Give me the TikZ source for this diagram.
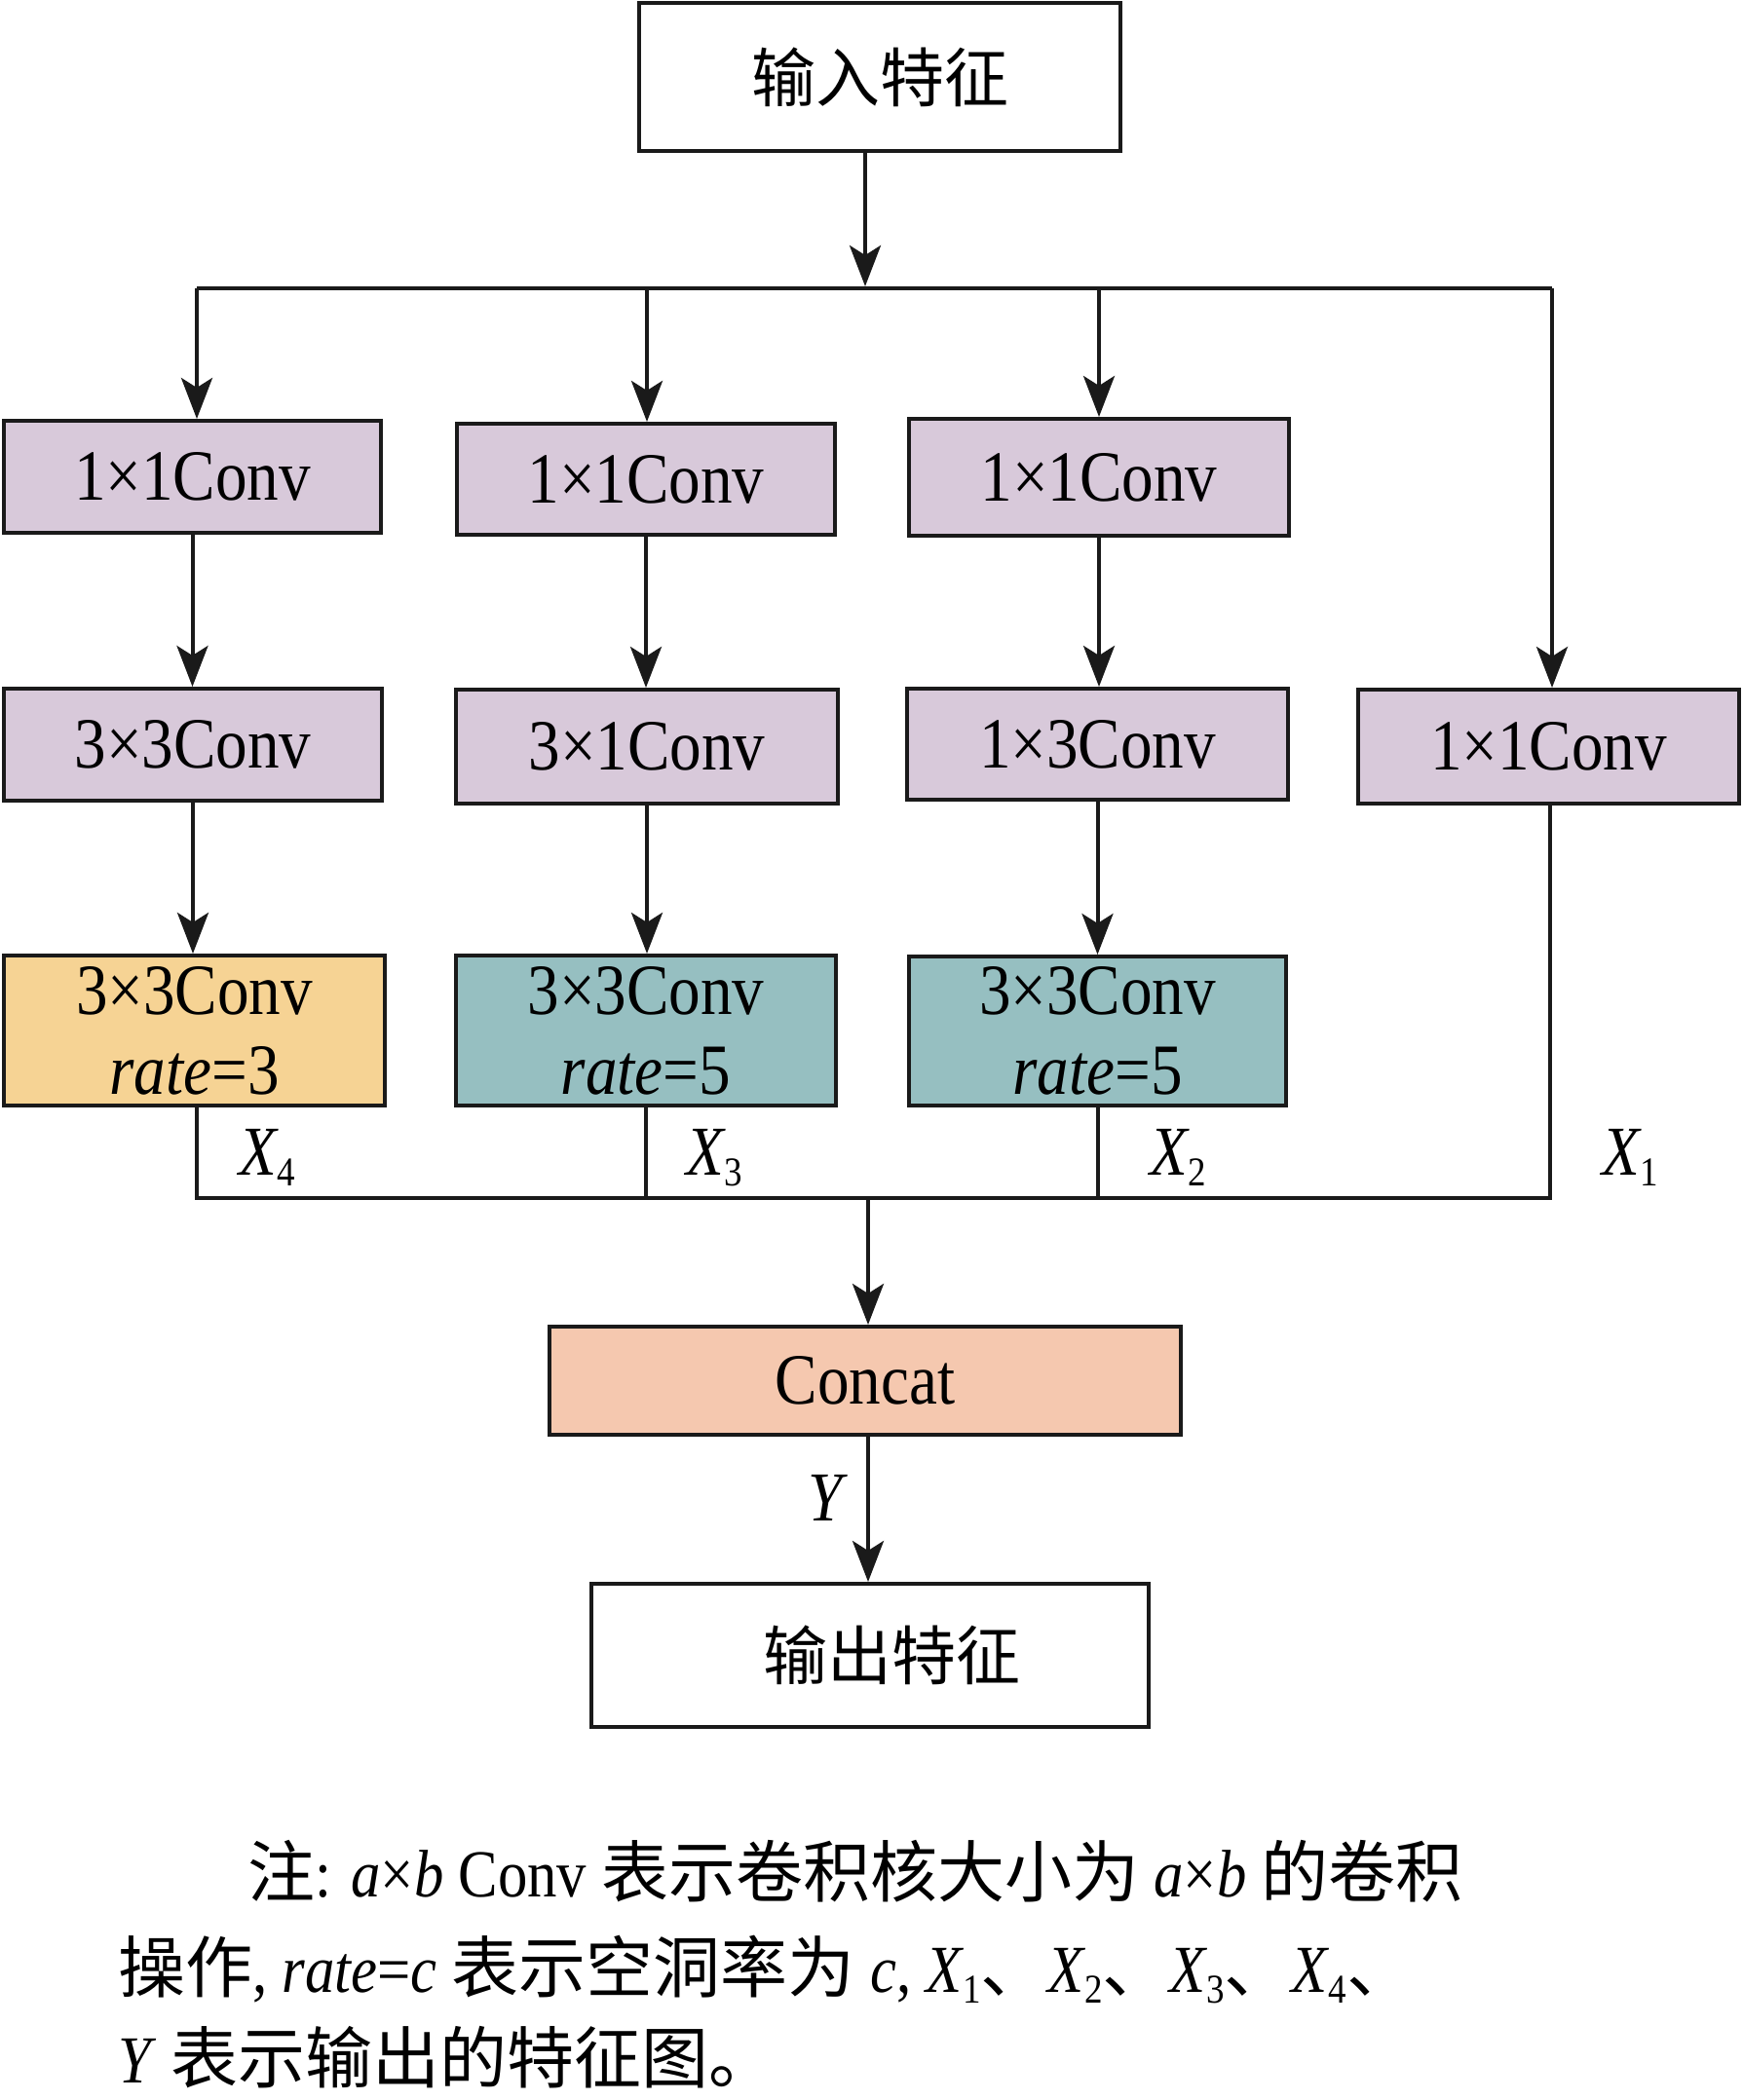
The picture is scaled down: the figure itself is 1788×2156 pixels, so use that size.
\documentclass[tikz,border=0pt]{standalone}
\usepackage{fontspec}
\setmainfont{Liberation Serif}[FakeStretch=0.88]
\newfontfamily\cjk{Noto Sans CJK SC}
\usetikzlibrary{arrows.meta}
\definecolor{purp}{RGB}{216,201,218}
\definecolor{orng}{RGB}{246,211,148}
\definecolor{teal2}{RGB}{150,191,193}
\definecolor{salm}{RGB}{245,200,175}
\definecolor{ink}{RGB}{26,26,26}
\newcommand\Xsb[2]{\textit{#1}\kern-0.02em\raisebox{-0.35ex}{\fontsize{21pt}{21pt}\selectfont #2}}
\begin{document}
\begin{tikzpicture}[x=0.5pt,y=-0.5pt,
  box/.style={draw=ink, line width=2pt, inner sep=0pt, outer sep=0pt, align=center,
    font=\fontsize{37pt}{41pt}\selectfont},
  cjkbox/.style={box, font=\fontsize{33pt}{40pt}\selectfont\cjk},
  arr/.style={-{Stealth[length=21pt,width=16pt,inset=5pt]}, line width=2pt, draw=ink, shorten >=1pt},
  ln/.style={line width=2pt, draw=ink},
  lab/.style={inner sep=0pt, anchor=base west, font=\fontsize{36pt}{41pt}\selectfont},
  note/.style={inner sep=0pt, anchor=base west, font=\fontsize{34.5pt}{40pt}\selectfont}]
\useasboundingbox (0,0) rectangle (1788,2156);
% boxes
\node[cjkbox, minimum width=247pt, minimum height=76pt] (in) at (903,79) {输入特征};
\node[box, fill=purp, minimum width=193.5pt, minimum height=57.5pt] (r1a) at (197.5,489.5) {1×1Conv};
\node[box, fill=purp, minimum width=194pt, minimum height=57pt] (r1b) at (663,492) {1×1Conv};
\node[box, fill=purp, minimum width=195pt, minimum height=60pt] (r1c) at (1128,490) {1×1Conv};
\node[box, fill=purp, minimum width=194pt, minimum height=57.5pt] (r2a) at (198,764.5) {3×3Conv};
\node[box, fill=purp, minimum width=196pt, minimum height=58.5pt] (r2b) at (664,766.5) {3×1Conv};
\node[box, fill=purp, minimum width=195.5pt, minimum height=57pt] (r2c) at (1126.5,764) {1×3Conv};
\node[box, fill=purp, minimum width=195.5pt, minimum height=58.5pt] (r2d) at (1589.5,766.5) {1×1Conv};
\node[box, fill=orng, minimum width=195.5pt, minimum height=77pt] (r3a) at (199.5,1058) {3×3Conv\\\textit{rate}=3};
\node[box, fill=teal2, minimum width=195pt, minimum height=77pt] (r3b) at (663,1058) {3×3Conv\\\textit{rate}=5};
\node[box, fill=teal2, minimum width=193.5pt, minimum height=76.5pt] (r3c) at (1126.5,1058.5) {3×3Conv\\\textit{rate}=5};
\node[box, fill=salm, minimum width=324pt, minimum height=55.5pt] (cc) at (888,1417.5) {Concat};
\node[cjkbox, minimum width=286pt, minimum height=73.5pt] (out) at (893,1699.5) {\hspace*{22pt}输出特征};
% top bus
\coordinate (b0) at (888,296);
\coordinate (bL) at (202,296);
\coordinate (bR) at (1593,296);
\coordinate (bB) at (664,296);
\coordinate (bC) at (1128,296);
\draw[arr] (in.south -| b0) -- (b0);
\draw[ln] (bL) -- (bR);
\draw[arr] (bL) -- (bL |- r1a.north);
\draw[arr] (bB) -- (bB |- r1b.north);
\draw[arr] (bC) -- (bC |- r1c.north);
\draw[arr] (bR) -- (bR |- r2d.north);
% row1 -> row2
\draw[arr] (r1a.south) -- (r1a.south |- r2a.north);
\draw[arr] (r1b.south) -- (r1b.south |- r2b.north);
\draw[arr] (r1c.south) -- (r1c.south |- r2c.north);
% row2 -> row3
\draw[arr] (r2a.south) -- (r2a.south |- r3a.north);
\draw[arr] (r2b.south) -- (r2b.south |- r3b.north);
\draw[arr] (r2c.south) -- (r2c.south |- r3c.north);
% bottom bus
\coordinate (cL) at (202,1230);
\coordinate (cR) at (1591,1230);
\coordinate (c0) at (891,1230);
\draw[ln] (r3a.south -| cL) -- (cL) -- (cR) -- (r2d.south -| cR);
\draw[ln] (r3b.south) -- (r3b.south |- cL);
\draw[ln] (r3c.south) -- (r3c.south |- cL);
\draw[arr] (c0) -- (c0 |- cc.north);
\draw[arr] (cc.south -| c0) -- (c0 |- out.north);
% labels
\node[lab] (x4) at (245,1206) {\Xsb{X}{4}};
\node[lab] (x3) at (704,1206) {\Xsb{X}{3}};
\node[lab] (x2) at (1180,1206) {\Xsb{X}{2}};
\node[lab] (x1) at (1644,1206) {\Xsb{X}{1}};
\node[lab] (y) at (829,1561) {\textit{Y}};
% note
\node[note] (n1) at (254,1947) {{\cjk 注}: \textit{a}×\textit{b} Conv {\cjk 表示卷积核大小为} \textit{a}×\textit{b} {\cjk 的卷积}};
\node[note] (n2) at (121,2045) {{\cjk 操作}, \textit{rate}=\textit{c} {\cjk 表示空洞率为} \textit{c}, \Xsb{X}{1}{\cjk 、}\Xsb{X}{2}{\cjk 、}\Xsb{X}{3}{\cjk 、}\Xsb{X}{4}{\cjk 、}};
\node[note] (n3) at (121,2138) {\textit{Y} {\cjk 表示输出的特征图。}};
\end{tikzpicture}
\end{document}
